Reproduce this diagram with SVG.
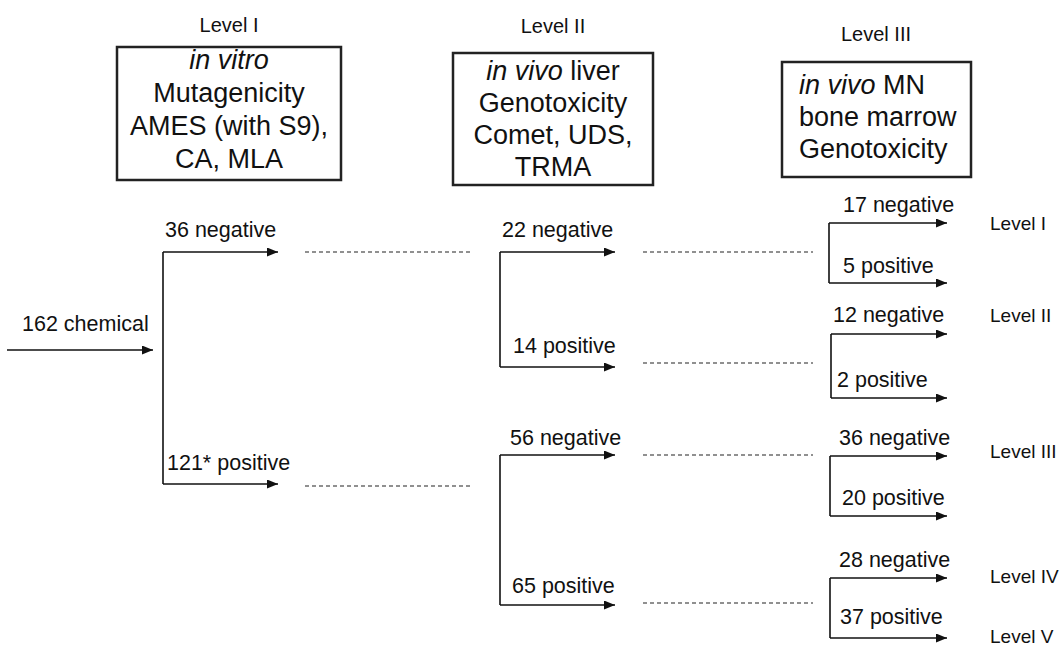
<svg xmlns="http://www.w3.org/2000/svg" width="1064" height="647" viewBox="0 0 1064 647">
<style>
text{font-family:"Liberation Sans",Arial,sans-serif;fill:#111}
.hd{font-size:20px}
.oc{font-size:19px}
.bx{font-size:27px}
.lb{font-size:21.5px}
.box{fill:#fff;stroke:#222;stroke-width:2.5}
.ln{stroke:#111;stroke-width:1.6;fill:none}
.ar{stroke:#111;stroke-width:1.6;fill:none;marker-end:url(#ah)}
.ds{stroke:#222;stroke-width:1.2;stroke-dasharray:4 3;fill:none}
</style>
<defs>
<marker id="ah" markerUnits="userSpaceOnUse" markerWidth="12" markerHeight="9" refX="11" refY="4.5" orient="auto">
<path d="M0,0 L11,4.5 L0,9 z" fill="#111"/>
</marker>
</defs>
<rect width="1064" height="647" fill="#fff"/>

<g id="level1">
<text class="hd" x="229" y="32" text-anchor="middle">Level I</text>
<rect class="box" x="117" y="47" width="224" height="133"/>
<text class="bx" x="229" y="69" text-anchor="middle" font-style="italic">in vitro</text>
<text class="bx" x="229" y="102" text-anchor="middle">Mutagenicity</text>
<text class="bx" x="229" y="135" text-anchor="middle">AMES (with S9),</text>
<text class="bx" x="229" y="168" text-anchor="middle">CA, MLA</text>
</g>

<g id="level2">
<text class="hd" x="553" y="33" text-anchor="middle">Level II</text>
<rect class="box" x="453" y="53" width="200" height="132"/>
<text class="bx" x="553" y="80" text-anchor="middle"><tspan font-style="italic">in vivo</tspan> liver</text>
<text class="bx" x="553" y="112" text-anchor="middle">Genotoxicity</text>
<text class="bx" x="553" y="144" text-anchor="middle">Comet, UDS,</text>
<text class="bx" x="553" y="176" text-anchor="middle">TRMA</text>
</g>

<g id="level3">
<text class="hd" x="876" y="41" text-anchor="middle">Level III</text>
<rect class="box" x="782" y="62" width="189" height="115"/>
<text class="bx" x="799" y="94"><tspan font-style="italic">in vivo</tspan> MN</text>
<text class="bx" x="799" y="126">bone marrow</text>
<text class="bx" x="799" y="158">Genotoxicity</text>
</g>

<g id="connectors">
<line class="ar" x1="7" y1="350" x2="153" y2="350"/>
<polyline class="ln" points="163,252 163,484"/>
<line class="ar" x1="163" y1="252" x2="278" y2="252"/>
<line class="ar" x1="163" y1="484" x2="278" y2="484"/>
<line class="ds" x1="305" y1="252" x2="473" y2="252"/>
<line class="ds" x1="305" y1="486" x2="473" y2="486"/>
<polyline class="ln" points="500,252 500,367"/>
<line class="ar" x1="500" y1="252" x2="615" y2="252"/>
<line class="ar" x1="500" y1="367" x2="615" y2="367"/>
<line class="ds" x1="643" y1="252" x2="813" y2="252"/>
<line class="ds" x1="643" y1="363" x2="813" y2="363"/>
<polyline class="ln" points="500,455 500,605"/>
<line class="ar" x1="500" y1="455" x2="615" y2="455"/>
<line class="ar" x1="500" y1="605" x2="615" y2="605"/>
<line class="ds" x1="643" y1="455" x2="813" y2="455"/>
<line class="ds" x1="643" y1="603" x2="813" y2="603"/>
<polyline class="ln" points="829,223 829,283"/>
<line class="ar" x1="829" y1="223" x2="947" y2="223"/>
<line class="ar" x1="829" y1="283" x2="947" y2="283"/>
<polyline class="ln" points="831,334 831,398"/>
<line class="ar" x1="831" y1="334" x2="947" y2="334"/>
<line class="ar" x1="831" y1="398" x2="947" y2="398"/>
<polyline class="ln" points="830,456 830,516"/>
<line class="ar" x1="830" y1="456" x2="947" y2="456"/>
<line class="ar" x1="830" y1="516" x2="947" y2="516"/>
<polyline class="ln" points="830,578 830,638"/>
<line class="ar" x1="830" y1="578" x2="947" y2="578"/>
<line class="ar" x1="830" y1="638" x2="947" y2="638"/>
</g>

<g id="labels">
<text class="lb" x="22" y="331">162 chemical</text>
<text class="lb" x="165" y="237">36 negative</text>
<text class="lb" x="167" y="470">121* positive</text>
<text class="lb" x="502" y="237">22 negative</text>
<text class="lb" x="513" y="353">14 positive</text>
<text class="lb" x="510" y="445">56 negative</text>
<text class="lb" x="512" y="593">65 positive</text>
<text class="lb" x="843" y="212">17 negative</text>
<text class="lb" x="843" y="273">5 positive</text>
<text class="lb" x="833" y="322">12 negative</text>
<text class="lb" x="837" y="387">2 positive</text>
<text class="lb" x="839" y="445">36 negative</text>
<text class="lb" x="842" y="505">20 positive</text>
<text class="lb" x="839" y="567">28 negative</text>
<text class="lb" x="840" y="624">37 positive</text>
</g>

<g id="outcomes">
<text class="oc" x="990" y="230">Level I</text>
<text class="oc" x="990" y="322">Level II</text>
<text class="oc" x="990" y="458">Level III</text>
<text class="oc" x="990" y="583">Level IV</text>
<text class="oc" x="990" y="643">Level V</text>
</g>
</svg>
